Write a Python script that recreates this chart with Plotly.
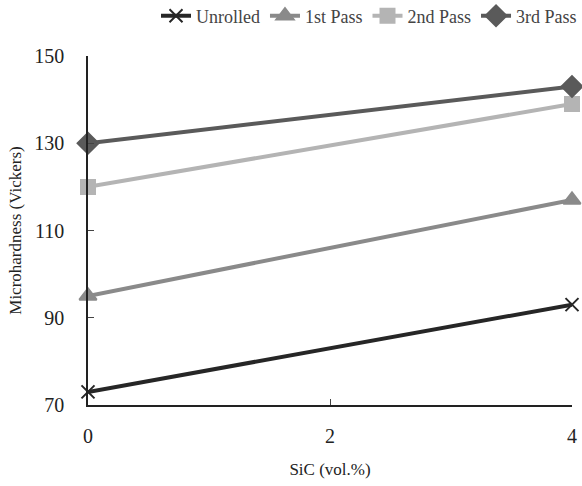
import plotly.graph_objects as go

sic = [0, 4]
unrolled = [73, 93]
pass1 = [95, 117]
pass2 = [120, 139]
pass3 = [130, 143]
names = ["Unrolled", "1st Pass", "2nd Pass", "3rd Pass"]
colors = ["#262626", "#8a8a8a", "#b4b4b4", "#5a5a5a"]
symbols = ["x-thin", "triangle-up", "square", "diamond"]
sizes = [13, 15, 14, 16]
series = [unrolled, pass1, pass2, pass3]

fig = go.Figure()
for n, c, s, sz, y in zip(names, colors, symbols, sizes, series):
    fig.add_trace(go.Scatter(
        x=sic, y=y, name=n, mode="lines+markers",
        line=dict(color=c, width=4),
        marker=dict(symbol=s, size=sz, color=c, line=dict(color=c, width=2)),
        cliponaxis=False,
    ))

font = "Liberation Serif"
W, H = 582, 486
fig.update_layout(
    width=W, height=H,
    margin=dict(l=88, r=10, t=56, b=81, autoexpand=False),
    plot_bgcolor="white", paper_bgcolor="white",
    font=dict(family=font, size=20, color="#222"),
    showlegend=True,
    legend=dict(orientation="h", xref="container", x=1.0, xanchor="right",
                yref="container", y=1 - 16 / H, yanchor="middle",
                font=dict(size=18, family=font, color="#444"), itemwidth=30,
                bgcolor="rgba(0,0,0,0)"),
    xaxis=dict(range=[0, 4], tickvals=[0, 2, 4], ticks="inside", ticklen=6,
               showline=True, linecolor="#222", linewidth=1.5, showgrid=False,
               zeroline=False, ticklabelstandoff=12, ticklabeloverflow="allow",
               title=dict(text="SiC (vol.%)", font=dict(size=17), standoff=17)),
    yaxis=dict(range=[70, 150], tickvals=[70, 90, 110, 130, 150], ticks="inside", ticklen=6,
               showline=True, linecolor="#222", linewidth=1.5, showgrid=False,
               zeroline=False, ticklabelstandoff=18,
               title=dict(text="Microhardness (Vickers)", font=dict(size=17), standoff=8)),
)
fig.write_html("out.html", config={"displayModeBar": False},
               post_script="document.body.style.margin='0';document.body.style.overflow='hidden';")
